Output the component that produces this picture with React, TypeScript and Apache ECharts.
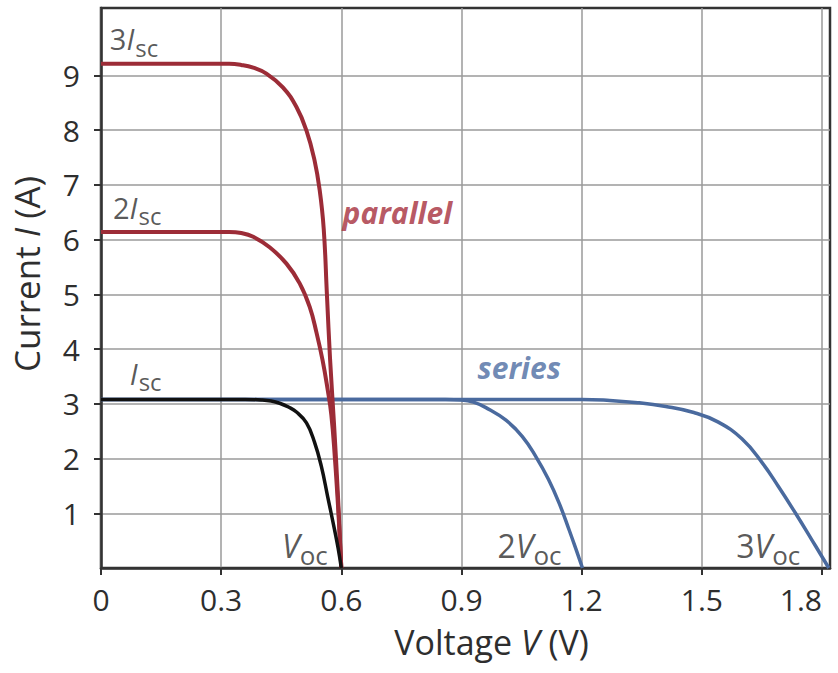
import React, { useEffect, useRef } from "react";
import * as echarts from "echarts";

// ---- data (volts, amps) ----
const singleV = [0, 0.2, 0.36, 0.4, 0.425, 0.446, 0.468, 0.488, 0.513, 0.533, 0.55, 0.566, 0.583, 0.592, 0.6];
const singleI = [3.08, 3.08, 3.08, 3.07, 3.05, 3.01, 2.94, 2.85, 2.65, 2.3, 1.86, 1.3, 0.7, 0.36, 0];

const par2V = [0, 0.2, 0.32, 0.35, 0.38, 0.421, 0.463, 0.496, 0.521, 0.538, 0.553, 0.565, 0.575, 0.584, 0.592, 0.6];
const par2I = [6.14, 6.14, 6.14, 6.12, 6.05, 5.86, 5.56, 5.2, 4.77, 4.3, 3.8, 3.3, 2.8, 2.0, 1.1, 0];

const par3V = [0, 0.2, 0.32, 0.35, 0.38, 0.413, 0.454, 0.488, 0.513, 0.533, 0.546, 0.556, 0.564, 0.572, 0.582, 0.591, 0.6];
const par3I = [9.21, 9.21, 9.21, 9.19, 9.14, 9.03, 8.78, 8.42, 7.99, 7.45, 6.9, 6.2, 5.0, 3.8, 2.6, 1.4, 0];

const ser2V = [0, 0.5, 0.86, 0.9, 0.93, 0.961, 1.011, 1.052, 1.086, 1.117, 1.144, 1.169, 1.186, 1.202];
const ser2I = [3.08, 3.08, 3.08, 3.07, 3.03, 2.93, 2.7, 2.4, 2.03, 1.62, 1.18, 0.69, 0.34, 0];

const ser3V = [0, 0.6, 1.2, 1.27, 1.34, 1.41, 1.48, 1.54, 1.6, 1.65, 1.692, 1.734, 1.775, 1.817];
const ser3I = [3.08, 3.08, 3.08, 3.06, 3.02, 2.95, 2.84, 2.67, 2.36, 1.93, 1.48, 1.0, 0.51, 0];

const xTicks = [0, 0.3, 0.6, 0.9, 1.2, 1.5, 1.8];
const yTicks = [1, 2, 3, 4, 5, 6, 7, 8, 9];

// annotation anchors in data coordinates (V, I) and their texts
const annoV = [0.022, 0.03, 0.072, 0.603, 0.94, 0.452, 0.99, 1.586];
const annoI = [9.67, 6.59, 3.56, 6.5, 3.67, 0.42, 0.42, 0.42];
const annoText = [
  "{n|3}{it|I}{sub|sc}",
  "{n|2}{it|I}{sub|sc}",
  "{it|I}{sub|sc}",
  "{par|parallel}",
  "{ser|series}",
  "{itv|V}{subv|oc}",
  "{nv|2}{itv|V}{subv|oc}",
  "{nv|3}{itv|V}{subv|oc}",
];

const RED = "#9c2c37";
const RED_TEXT = "#a52d3a";
const BLUE = "#4a6a9e";
const BLUE_TEXT = "#4b6ba1";
const TEXT = "#2e2e2e";
const FONT = "'Open Sans', 'Noto Sans', sans-serif";

const zip = (a: number[], b: number[]) => a.map((v, i) => [v, b[i]]);

export default function App() {
  const ref = useRef<HTMLDivElement>(null);
  useEffect(() => {
    if (!ref.current) return;
    const chart = echarts.init(ref.current, null, { renderer: "svg" });
    const lineBase = (name: string, data: number[][], color: string, z: number, width: number) => ({
      name,
      type: "line",
      data,
      showSymbol: false,
      symbol: "none",
      smooth: 0.45,
      z,
      lineStyle: { color, width },
      emphasis: { disabled: true },
    });
    const richBase = {
      n: { fontSize: 29, lineHeight: 32, verticalAlign: "middle", color: TEXT, fontFamily: FONT },
      it: { fontSize: 29, lineHeight: 32, verticalAlign: "middle", fontStyle: "italic", color: TEXT, fontFamily: FONT },
      sub: { fontSize: 24, lineHeight: 14, padding: [17, 0, 0, 1], verticalAlign: "middle", color: TEXT, fontFamily: FONT },
      nv: { fontSize: 32, lineHeight: 34, verticalAlign: "middle", color: TEXT, fontFamily: FONT },
      itv: { fontSize: 32, lineHeight: 34, verticalAlign: "middle", fontStyle: "italic", color: TEXT, fontFamily: FONT },
      subv: { fontSize: 26, lineHeight: 14, padding: [19, 0, 0, 0], verticalAlign: "middle", color: TEXT, fontFamily: FONT },
      par: { fontSize: 30, fontWeight: "bold", fontStyle: "italic", color: RED_TEXT, fontFamily: FONT },
      ser: { fontSize: 30, fontWeight: "bold", fontStyle: "italic", color: BLUE_TEXT, fontFamily: FONT },
    };
    chart.setOption({
      animation: false,
      grid: {
        left: 101,
        right: 8,
        top: 8,
        bottom: 105,
        show: true,
        borderColor: "#333",
        borderWidth: 2.5,
        containLabel: false,
      },
      xAxis: {
        type: "value",
        min: 0,
        max: 1.82,
        name: "Voltage {i|V} (V)",
        nameLocation: "middle",
        nameGap: 57,
        nameTextStyle: {
          fontSize: 34,
          color: TEXT,
          fontFamily: FONT,
          padding: [0, 0, 0, 52],
          rich: { i: { fontSize: 34, fontStyle: "italic", color: TEXT, fontFamily: FONT } },
        },
        axisLine: { show: true, onZero: false, lineStyle: { color: "#333", width: 2.5 } },
        axisTick: { show: true, length: 7, customValues: xTicks, lineStyle: { color: "#333", width: 2 } },
        axisLabel: {
          customValues: xTicks,
          fontSize: 30,
          color: TEXT,
          fontFamily: FONT,
          margin: 16,
          alignMaxLabel: "right",
          formatter: (v: number) => String(Math.round(v * 10) / 10),
        },
        splitLine: { show: true, lineStyle: { color: "#9a9a9a", width: 1.5 } },
      },
      yAxis: {
        type: "value",
        min: 0,
        max: 10.23,
        name: "Current {i|I} (A)",
        nameLocation: "middle",
        nameGap: 57,
        nameRotate: 90,
        nameTextStyle: {
          fontSize: 35,
          color: TEXT,
          fontFamily: FONT,
          padding: [0, 0, 0, 28],
          rich: { i: { fontSize: 35, fontStyle: "italic", color: TEXT, fontFamily: FONT } },
        },
        axisLine: { show: true, onZero: false, lineStyle: { color: "#333", width: 2.5 } },
        axisTick: { show: true, length: 7, customValues: yTicks, lineStyle: { color: "#333", width: 2 } },
        axisLabel: { customValues: yTicks, fontSize: 30, color: TEXT, fontFamily: FONT, margin: 21 },
        splitLine: { show: true, lineStyle: { color: "#9a9a9a", width: 1.5 } },
      },
      series: [
        lineBase("3 in series", zip(ser3V, ser3I), BLUE, 2, 3.5),
        lineBase("2 in series", zip(ser2V, ser2I), BLUE, 3, 3.5),
        lineBase("3 in parallel", zip(par3V, par3I), RED, 4, 4),
        lineBase("2 in parallel", zip(par2V, par2I), RED, 5, 4),
        lineBase("single cell", zip(singleV, singleI), "#111111", 6, 3.5),
        {
          name: "labels",
          type: "scatter",
          symbolSize: 0,
          silent: true,
          z: 10,
          data: annoV.map((v, i) => ({ value: [v, annoI[i]], text: annoText[i] })),
          label: {
            show: true,
            position: [0, 0],
            align: "left",
            verticalAlign: "middle",
            formatter: (p: any) => p.data.text,
            rich: richBase,
          },
        },
      ],
    });
    return () => chart.dispose();
  }, []);
  return <div ref={ref} style={{ width: 838, height: 673, position: "absolute", left: 0, top: 0 }} />;
}
